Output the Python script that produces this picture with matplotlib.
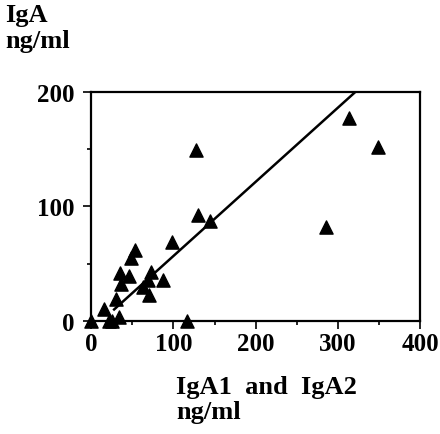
import matplotlib
matplotlib.use("Agg")
import matplotlib.pyplot as plt
import numpy as np

iga_sum = [0, 16, 22, 25, 30, 34, 35, 36, 46, 48, 53, 63, 69, 70, 73, 88, 98, 117, 127, 130, 145, 286, 314, 349]
iga = [0, 10, 0, 0, 19, 3, 42, 32, 39, 55, 62, 30, 36, 23, 43, 36, 69, 0, 149, 93, 87, 82, 177, 152]

# regression line end points
line_x = [28, 321]
line_y = [10, 200]

plt.rcParams['font.family'] = ['Liberation Serif', 'DejaVu Serif']
plt.rcParams['font.weight'] = 'bold'

fig = plt.figure(figsize=(4.4, 4.35), dpi=100)
ax = fig.add_axes([0.207, 0.26, 0.748, 0.526])

ax.plot(line_x, line_y, color='black', lw=1.8)
ax.scatter(iga_sum, iga, marker='^', s=90, color='black', clip_on=False, zorder=3)

ax.set_xlim(0, 400)
ax.set_ylim(0, 200)
ax.set_xticks([0, 100, 200, 300, 400])
ax.set_xticks([50, 150, 250, 350], minor=True)
ax.set_yticks([0, 100, 200])
ax.set_yticks([50, 150], minor=True)
ax.tick_params(axis='both', which='major', direction='out', length=6, width=1.2, labelsize=18)
ax.tick_params(axis='both', which='minor', direction='out', length=3, width=1.2)
ax.tick_params(axis='x', which='major', pad=2)
ax.tick_params(axis='y', which='major', pad=6)
for lab in ax.get_xticklabels() + ax.get_yticklabels():
    lab.set_fontweight('bold')
for sp in ax.spines.values():
    sp.set_linewidth(1.6)

fig.text(0.012, 0.99, "IgA\nng/ml", ha='left', va='top', fontsize=19, fontweight='bold', linespacing=1.15)
fig.text(0.40, 0.135, "IgA1  and  IgA2\nng/ml", ha='left', va='top', fontsize=19, fontweight='bold', linespacing=1.1)

fig.savefig("out.png", dpi=100)
